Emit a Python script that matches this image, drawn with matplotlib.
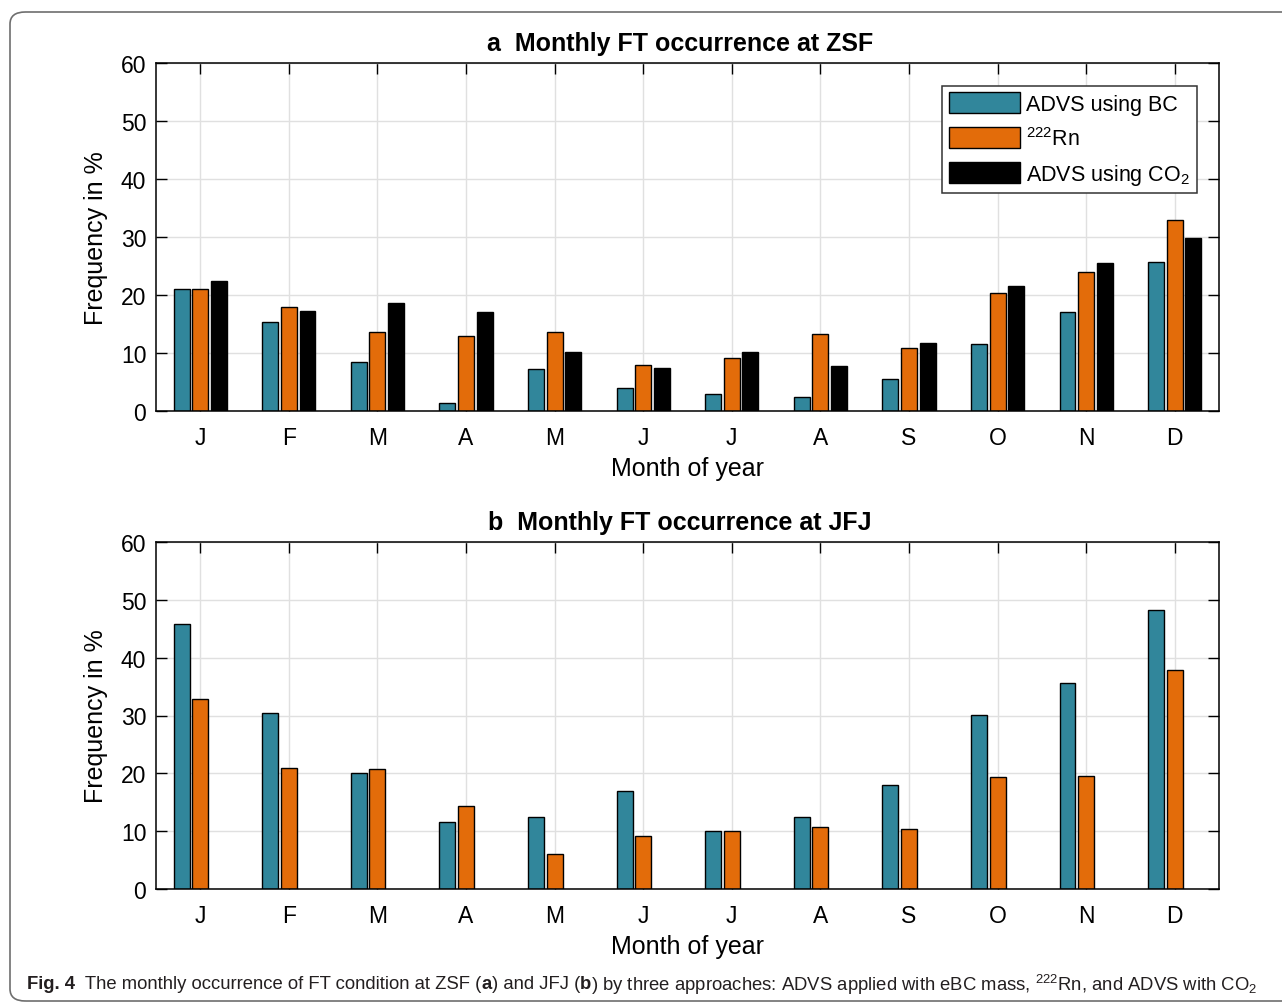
import numpy as np
import matplotlib
matplotlib.use("Agg")
from matplotlib import pyplot as plt
from matplotlib.patches import FancyBboxPatch

plt.rcParams['font.family'] = ['Liberation Sans', 'DejaVu Sans']
plt.rcParams['mathtext.fontset'] = 'custom'
plt.rcParams['mathtext.rm'] = 'Liberation Sans'
plt.rcParams['mathtext.it'] = 'Liberation Sans'

# data
months = ['J', 'F', 'M', 'A', 'M', 'J', 'J', 'A', 'S', 'O', 'N', 'D']
zsf_bc = [21.0, 15.4, 8.5, 1.3, 7.2, 3.9, 3.0, 2.4, 5.5, 11.6, 17.1, 25.7]
zsf_rn = [21.0, 18.0, 13.6, 12.9, 13.7, 8.0, 9.2, 13.3, 10.8, 20.3, 24.0, 33.0]
zsf_co2 = [22.4, 17.3, 18.6, 17.0, 10.2, 7.4, 10.2, 7.8, 11.8, 21.6, 25.5, 29.9]
jfj_bc = [45.8, 30.5, 20.1, 11.5, 12.5, 16.9, 10.1, 12.4, 17.9, 30.1, 35.6, 48.2]
jfj_rn = [32.9, 21.0, 20.7, 14.4, 6.0, 9.1, 10.1, 10.8, 10.4, 19.4, 19.6, 37.8]

c_bc = '#31869b'
c_rn = '#e36c0a'
c_co2 = '#000000'

W, H = 1282, 1004
fig = plt.figure(figsize=(W / 100, H / 100), dpi=100)

# rounded frame around the figure panel
frame = FancyBboxPatch((10 / W, 2 / H), 1.2, (H - 15) / H,
                       boxstyle='round,pad=0,rounding_size=0.012',
                       transform=fig.transFigure, fill=False,
                       edgecolor='#6e6e6e', linewidth=1.2, clip_on=False)
fig.patches.append(frame)

x = np.arange(1, 13)
bw = 0.18
off = 0.21


def style_axes(ax, title):
    ax.set_xlim(0.5, 12.5)
    ax.set_ylim(0, 60)
    ax.set_xticks(x)
    ax.set_xticklabels(months)
    ax.set_yticks(range(0, 61, 10))
    ax.tick_params(direction='in', length=8, width=1, top=True, right=True,
                   labelsize=16.5)
    ax.tick_params(axis='x', pad=11)
    ax.tick_params(axis='y', pad=7)
    ax.grid(True, color='#e0e0e0', linewidth=1)
    ax.set_axisbelow(True)
    for s in ax.spines.values():
        s.set_linewidth(1.1)
    ax.set_xlabel('Month of year', fontsize=18, labelpad=5)
    ax.set_ylabel('Frequency in %', fontsize=18, labelpad=9)
    ax.set_title(title, fontsize=18, fontweight='bold', pad=9, x=0.493)


ax1 = fig.add_axes([156 / W, 1 - 412 / H, (1219 - 156) / W, (412 - 64) / H])
b1 = ax1.bar(x - off, zsf_bc, bw, color=c_bc, edgecolor='black', linewidth=1)
b2 = ax1.bar(x, zsf_rn, bw, color=c_rn, edgecolor='black', linewidth=1)
b3 = ax1.bar(x + off, zsf_co2, bw, color=c_co2, edgecolor='black', linewidth=1)
style_axes(ax1, 'a  Monthly FT occurrence at ZSF')
leg = ax1.legend([b1, b2, b3], ['ADVS using BC', '$^{222}$Rn', 'ADVS using CO$_2$'],
                 loc='upper right', bbox_to_anchor=(0.979, 0.934), fontsize=15.5,
                 handlelength=3.3, handleheight=1.1, handletextpad=0.3,
                 labelspacing=0.55, borderpad=0.3, borderaxespad=0,
                 fancybox=False, framealpha=1, edgecolor='#333333')
leg.get_frame().set_linewidth(1.1)

ax2 = fig.add_axes([156 / W, 1 - 890 / H, (1219 - 156) / W, (890 - 543) / H])
ax2.bar(x - off, jfj_bc, bw, color=c_bc, edgecolor='black', linewidth=1)
ax2.bar(x, jfj_rn, bw, color=c_rn, edgecolor='black', linewidth=1)
style_axes(ax2, 'b  Monthly FT occurrence at JFJ')

# caption, drawn in pieces so parts can be bold
pieces = [('Fig. 4', 'bold'), ('  The monthly occurrence of FT condition at ZSF (', 'normal'),
          ('a', 'bold'), (') and JFJ (', 'normal'), ('b', 'bold'),
          (') by three approaches: ADVS applied with eBC mass, $^{222}$Rn, and ADVS with CO$_2$', 'normal')]
fig.canvas.draw()
renderer = fig.canvas.get_renderer()


def draw_caption(size):
    xpos = 27 / W
    made = []
    for txt, wt in pieces:
        t = fig.text(xpos, 1 - 985 / H, txt, fontsize=size, fontweight=wt,
                     va='center', ha='left', color='#231f20')
        bb = t.get_window_extent(renderer=renderer)
        xpos = bb.x1 / W
        made.append(t)
    return made, xpos * W - 27


made, width = draw_caption(14)
for t in made:
    t.remove()
draw_caption(14 * (1265 - 27) / width)

fig.savefig('out.png', dpi=100)
